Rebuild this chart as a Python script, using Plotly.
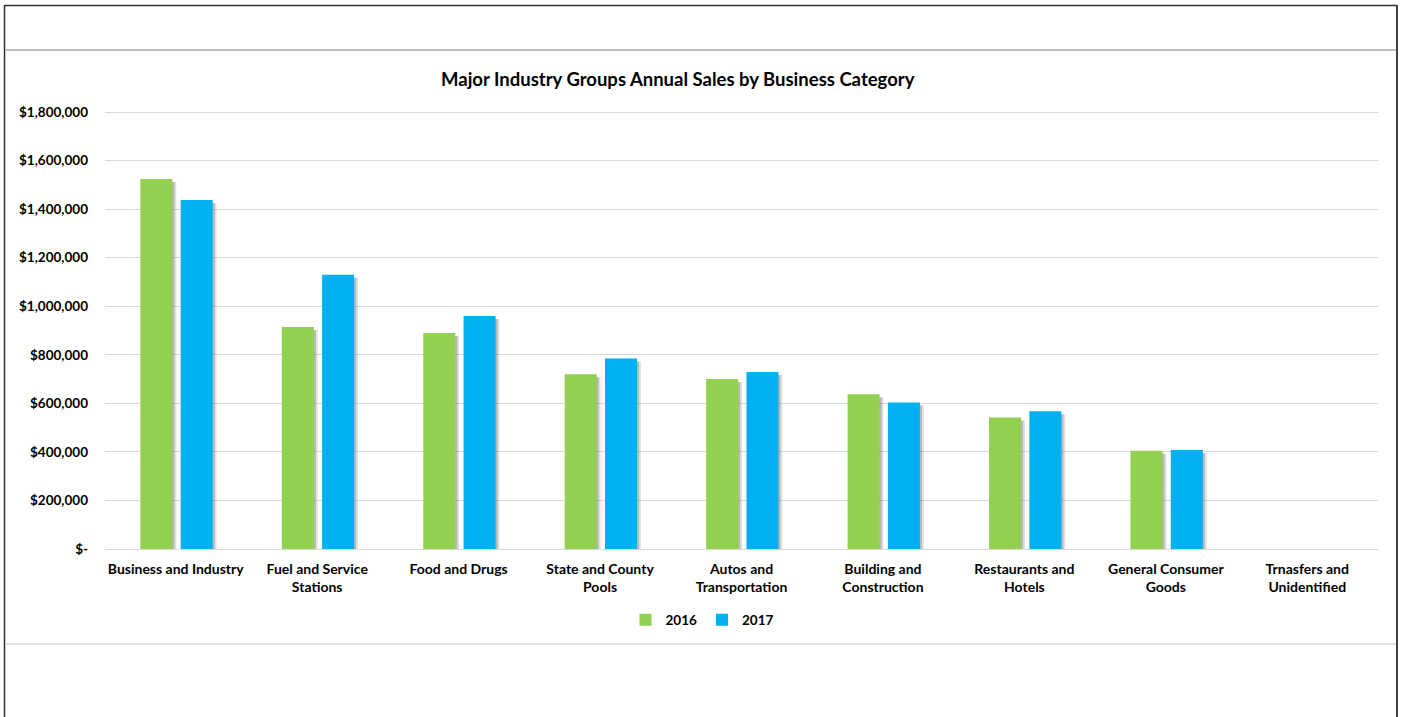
import plotly.graph_objects as go

# Annual sales by business category
categories = [
    "Business and Industry",
    "Fuel and Service<br>Stations",
    "Food and Drugs",
    "State and County<br>Pools",
    "Autos and<br>Transportation",
    "Building and<br>Construction",
    "Restaurants and<br>Hotels",
    "General Consumer<br>Goods",
    "Trnasfers and<br>Unidentified",
]
sales_2016 = [1525000, 915000, 890000, 720000, 700000, 638000, 542000, 405000, None]
sales_2017 = [1438000, 1130000, 960000, 785000, 729000, 604000, 568000, 408000, None]

tick_values = [0, 200000, 400000, 600000, 800000, 1000000, 1200000, 1400000, 1600000, 1800000]
tick_labels = ["$-", "$200,000", "$400,000", "$600,000", "$800,000", "$1,000,000",
               "$1,200,000", "$1,400,000", "$1,600,000", "$1,800,000"]

GREEN = "#92D050"
BLUE = "#00B0F0"
FONT = "Lato"

W, H = 1401, 717
ML, MR, MT, MB = 105, 23, 100, 168
plot_w = W - ML - MR
plot_h = H - MT - MB
y_max = 1850000

cat_px = plot_w / len(categories)
bar_w = 32 / cat_px
off_2016 = -0.250
off_2017 = 0.035

# drop shadow geometry (pixels -> axis units)
sh_dx = 3 / cat_px
sh_dy = 3 * y_max / plot_h


def shadow(vals):
    return [None if v is None else max(v - sh_dy, 0) for v in vals]


fig = go.Figure()

for vals, off in ((sales_2016, off_2016), (sales_2017, off_2017)):
    fig.add_trace(go.Bar(
        x=categories, y=shadow(vals), width=bar_w, offset=off + sh_dx * 1.3,
        marker=dict(color="rgba(90,90,90,0.18)", line=dict(width=0)),
        showlegend=False, hoverinfo="skip",
    ))
    fig.add_trace(go.Bar(
        x=categories, y=shadow(vals), width=bar_w, offset=off + sh_dx * 0.7,
        marker=dict(color="rgba(90,90,90,0.30)", line=dict(width=0)),
        showlegend=False, hoverinfo="skip",
    ))

fig.add_trace(go.Bar(
    x=categories, y=sales_2016, name="2016", width=bar_w, offset=off_2016,
    marker=dict(color=GREEN, line=dict(width=0)),
))
fig.add_trace(go.Bar(
    x=categories, y=sales_2017, name="2017", width=bar_w, offset=off_2017,
    marker=dict(color=BLUE, line=dict(width=0)),
))


def px_x(px):
    return (px - ML) / plot_w


def px_y(py):
    return (H - MB - py) / plot_h


shapes = [
    # outer frame
    dict(type="line", xref="paper", yref="paper", x0=px_x(4.5), x1=px_x(4.5),
         y0=px_y(5), y1=px_y(730), line=dict(color="#303030", width=1.5)),
    dict(type="line", xref="paper", yref="paper", x0=px_x(4.5), x1=px_x(1397),
         y0=px_y(5.5), y1=px_y(5.5), line=dict(color="#303030", width=1.5)),
    dict(type="line", xref="paper", yref="paper", x0=px_x(1397), x1=px_x(1397),
         y0=px_y(5), y1=px_y(730), line=dict(color="#404040", width=2)),
    # row separators
    dict(type="line", xref="paper", yref="paper", x0=px_x(5), x1=px_x(1396),
         y0=px_y(50), y1=px_y(50), line=dict(color="#BDBDBD", width=2)),
    dict(type="line", xref="paper", yref="paper", x0=px_x(5), x1=px_x(1396),
         y0=px_y(644), y1=px_y(644), line=dict(color="#D9D9D9", width=1.5)),
]

fig.update_layout(
    width=W, height=H,
    margin=dict(l=ML, r=MR, t=MT, b=MB, autoexpand=False),
    paper_bgcolor="white", plot_bgcolor="white",
    barmode="overlay",
    font=dict(family=FONT, color="#000000"),
    shapes=shapes,
    showlegend=True,
    legend=dict(
        orientation="h", x=px_x(702), xanchor="center",
        y=px_y(620), yanchor="middle",
        font=dict(family=FONT, size=13.5, color="#000000", weight="bold"),
        itemwidth=30, traceorder="normal",
    ),
    annotations=[dict(
        text="<b>Major Industry Groups Annual Sales by Business Category</b>",
        xref="paper", yref="paper", x=px_x(678), y=px_y(79),
        xanchor="center", yanchor="middle", showarrow=False,
        font=dict(family=FONT, size=18.5, color="#000000"),
    )],
)

fig.update_xaxes(
    type="category", range=[-0.5, len(categories) - 0.5],
    showgrid=False, showline=True, linecolor="#D9D9D9", linewidth=1,
    ticks="", ticklabelstandoff=7,
    tickfont=dict(family=FONT, size=14, color="#000000", weight="bold"),
)
fig.update_yaxes(
    range=[0, y_max], tickvals=tick_values, ticktext=tick_labels,
    showgrid=True, gridcolor="#D9D9D9", gridwidth=1,
    zeroline=False, showline=False, ticks="", ticklabelstandoff=16,
    tickfont=dict(family=FONT, size=13.5, color="#000000", weight="bold"),
)

fig.write_html("out.html")
